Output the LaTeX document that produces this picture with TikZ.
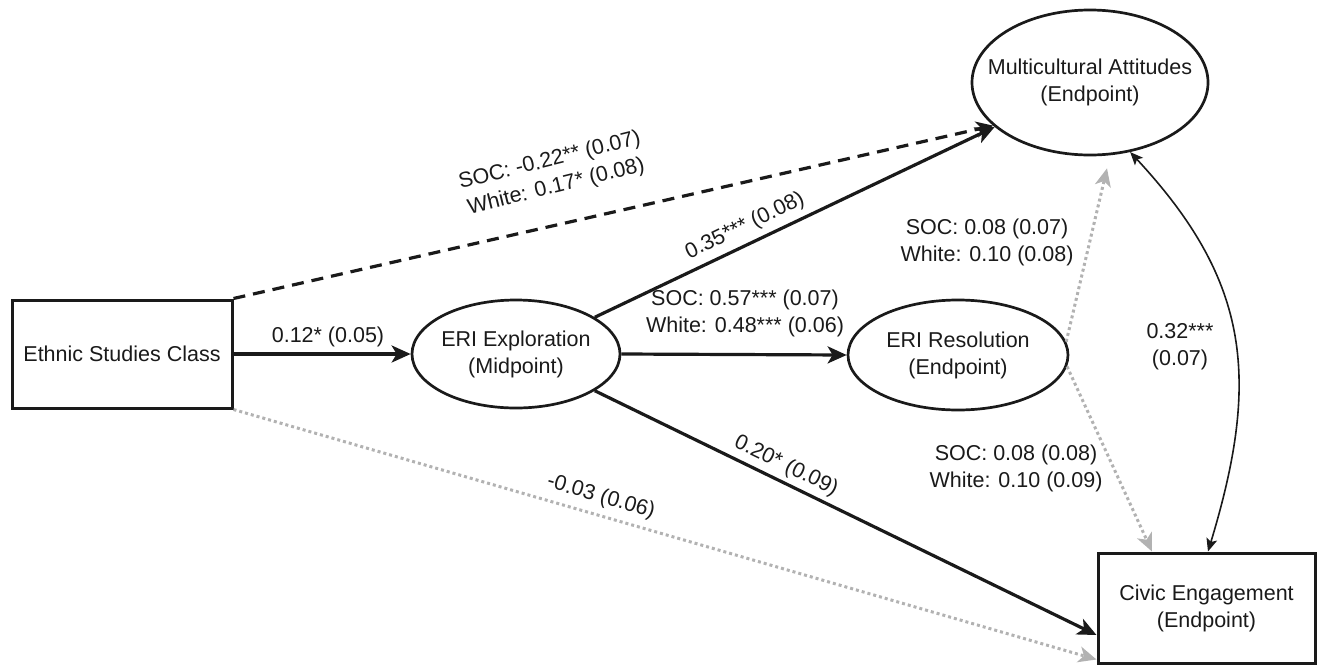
\documentclass[tikz,border=0pt]{standalone}
\usepackage{fontspec}
\setmainfont{Liberation Sans}
\usetikzlibrary{arrows.meta,shapes.geometric}
\definecolor{ink}{RGB}{26,26,26}
\definecolor{faint}{RGB}{178,178,178}

\begin{document}
\begin{tikzpicture}[x=1pt,y=-1pt,
  txt/.style={font=\fontsize{21.5pt}{27pt}\selectfont, text=ink, align=center},
  boxnode/.style={draw=ink, line width=3pt, rectangle, inner sep=0pt, txt},
  ellnode/.style={draw=ink, ellipse, line width=2.7pt, inner sep=0pt},
  lbl/.style={txt, inner sep=1pt},
  solidarrow/.style={draw=ink, line width=3.2pt, -{Stealth[length=19pt,width=17pt,inset=5pt]}},
  dasharrow/.style={draw=ink, line width=3.2pt, dash pattern=on 12pt off 8pt, -{Stealth[length=17pt,width=16pt,inset=5pt]}},
  dotarrow/.style={draw=faint, line width=3pt, dash pattern=on 3pt off 3pt, -{Stealth[length=18pt,width=16pt,inset=5pt,fill=faint]}},
  corrarrow/.style={draw=ink, line width=1.6pt, {Stealth[length=13pt,width=11pt,inset=3pt]}-{Stealth[length=13pt,width=11pt,inset=3pt]}}
]
\useasboundingbox (0,0) rectangle (1319,667);

% variables
\node[boxnode, minimum width=220pt, minimum height=108pt] (esc) at (122,354) {Ethnic Studies Class};
\node[ellnode, minimum width=208pt, minimum height=108pt,
      label={[txt]center:ERI Exploration\\(Midpoint)}] (exp) at (516,354) {};
\node[ellnode, minimum width=220pt, minimum height=110pt,
      label={[txt]center:ERI Resolution\\(Endpoint)}] (res) at (958,355) {};
\node[ellnode, minimum width=236pt, minimum height=145pt,
      label={[txt]center:Multicultural Attitudes\\(Endpoint)}] (multi) at (1090,82.5) {};
\node[boxnode, minimum width=217pt, minimum height=110pt] (civic) at (1206.5,608) {Civic Engagement\\(Endpoint)};

% free ends of the non-significant paths
\coordinate (multiIn) at ([xshift=17pt,yshift=-12pt]multi.south);
\coordinate (civicTop) at ([xshift=-54.5pt]civic.north);
\coordinate (civicCorr) at ([xshift=1.5pt]civic.north);

% paths
\draw[solidarrow] (esc.east) -- (exp.west);
\draw[dasharrow] (esc.north east) -- (multi.204);
\draw[solidarrow] (exp.25) -- (multi.205);
\draw[solidarrow] (exp.east) -- (res.west);
\draw[solidarrow] (exp.-25) -- ([yshift=-27pt]civic.west);
\draw[dotarrow] (esc.south east) -- ([yshift=5pt]civic.south west);
\draw[dotarrow] (res.7) -- (multiIn);
\draw[dotarrow] (res.-6) -- (civicTop);
\draw[corrarrow] (multi.-60) .. controls (1251,282) and (1260,380) .. (civicCorr);

% coefficients
\node[lbl] (l1) at (328,337) {0.12* (0.05)};
\node[lbl, rotate=13.9] (l2) at (553,174) {SOC: -0.22** (0.07)\\White: 0.17* (0.08)};
\node[lbl, rotate=25.8] (l3) at (745,226) {0.35*** (0.08)};
\node[lbl] (l4) at (745,313) {SOC: 0.57*** (0.07)\\White: 0.48*** (0.06)};
\node[lbl, rotate=-25.9] (l5) at (786,466) {0.20* (0.09)};
\node[lbl, rotate=-16.1] (l6) at (601,497) {-0.03 (0.06)};
\node[lbl] (l7) at (987,242) {SOC: 0.08 (0.07)\\White: 0.10 (0.08)};
\node[lbl] (l8) at (1016,468) {SOC: 0.08 (0.08)\\White: 0.10 (0.09)};
\node[lbl] (l9) at (1180,347) {0.32***\\(0.07)};
\end{tikzpicture}
\end{document}
